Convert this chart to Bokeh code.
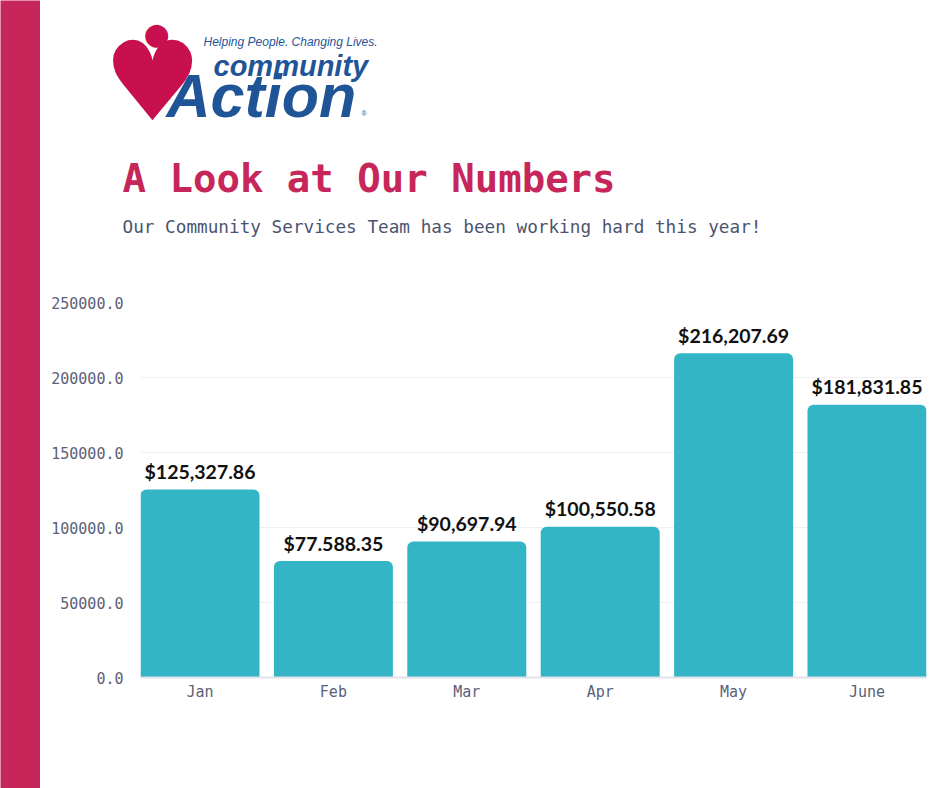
from bokeh.plotting import figure
from bokeh.layouts import row, column
from bokeh.models import FactorRange, Range1d, FixedTicker, PrintfTickFormatter
from bokeh.core.properties import value
from bokeh.embed import file_html
from bokeh.resources import INLINE

months = ["Jan", "Feb", "Mar", "Apr", "May", "June"]
amounts = [125327.86, 77588.35, 90697.94, 100550.58, 216207.69, 181831.85]
amount_labels = ["$125,327.86", "$77.588.35", "$90,697.94", "$100,550.58", "$216,207.69", "$181,831.85"]
y_ticks = [0, 50000, 100000, 150000, 200000, 250000]

title_text = "A Look at Our Numbers"
subtitle_text = "Our Community Services Team has been working hard this year!"
tagline_text = "Helping People. Changing Lives."

RED = "#c6265a"
TEAL = "#33b5c5"
BLUE = "#1f5597"
LOGO_RED = "#c8104e"
GREY_TXT = "#5a6179"
MONO = "DejaVu Sans Mono"


def blank(fig, color="white"):
    fig.axis.visible = False
    fig.grid.visible = False
    fig.outline_line_color = None
    fig.background_fill_color = color
    fig.border_fill_color = color
    return fig


def no_align(fig):
    try:
        fig.frame_align = False
    except Exception:
        pass
    return fig


# ---- red sidebar
side = blank(figure(width=40, height=788, min_border=0, output_backend="svg",
                    toolbar_location=None, x_range=Range1d(0, 1), y_range=Range1d(0, 1)),
             RED)
no_align(side)

# ---- header (logo, title, subtitle); data units = page pixels
head = blank(figure(width=900, height=294, min_border=0, output_backend="svg",
                    toolbar_location=None, x_range=Range1d(40, 940), y_range=Range1d(294, 0)))
no_align(head)

head.text(x=[152], y=[81], text=["\u2665"], text_font=value("DejaVu Sans"),
          text_font_size="110px", text_color=LOGO_RED, text_align="center",
          text_baseline="middle")
head.text(x=[156], y=[33], text=["\u25cf"], text_font=value("DejaVu Sans"),
          text_font_size="30px", text_color=LOGO_RED, text_align="center",
          text_baseline="middle")
head.text(x=[203], y=[41], text=[tagline_text], text_font=value("Liberation Sans"),
          text_font_style="italic", text_font_size="12px", text_color=BLUE,
          text_baseline="alphabetic")
head.text(x=[213], y=[65], text=["community"], text_font=value("Liberation Sans"),
          text_font_style="bold italic", text_font_size="29px", text_color=BLUE,
          text_baseline="alphabetic")
head.text(x=[166], y=[95], text=["Action"], text_font=value("Liberation Sans"),
          text_font_style="bold italic", text_font_size="61px", text_color=BLUE,
          text_baseline="alphabetic")
head.text(x=[361], y=[113], text=["\u00ae"], text_font=value("Liberation Sans"),
          text_font_size="7px", text_color=BLUE, text_baseline="alphabetic")

head.text(x=[122], y=[178], text=[title_text], text_font=value(MONO),
          text_font_style="bold", text_font_size="39px", text_color=RED,
          text_baseline="alphabetic")
head.text(x=[122], y=[226], text=[subtitle_text], text_font=value(MONO),
          text_font_size="17.7px", text_color="#4a5470", text_baseline="alphabetic")

# ---- chart
p = figure(
    x_range=FactorRange(*months, range_padding=-0.054, range_padding_units="absolute"),
    y_range=Range1d(0, 250000),
    width=900, height=494,
    min_border_left=100, min_border_right=14, min_border_top=8, min_border_bottom=111,
    output_backend="svg", toolbar_location=None,
)
no_align(p)
p.outline_line_color = None
p.background_fill_color = "white"
p.border_fill_color = "white"

p.vbar(x=months, top=amounts, width=0.892, color=TEAL, line_color=None,
       border_radius=(6, 6, 0, 0))

p.text(x=months, y=amounts, text=amount_labels, text_align="center",
       text_baseline="alphabetic", y_offset=-18,
       text_font=value("Lato"), text_font_style="bold", text_font_size="19.5px",
       text_color="#111111")

p.yaxis.ticker = FixedTicker(ticks=y_ticks)
p.yaxis.formatter = PrintfTickFormatter(format="%.1f")
p.yaxis.axis_line_color = None
p.yaxis.major_tick_line_color = None
p.yaxis.major_tick_out = 0
p.yaxis.minor_tick_line_color = None
p.yaxis.major_label_standoff = 17
p.yaxis.major_label_text_font = MONO
p.yaxis.major_label_text_font_size = "15px"
p.yaxis.major_label_text_color = GREY_TXT

p.xaxis.axis_line_color = "#e2e2ea"
p.xaxis.axis_line_width = 2
p.xaxis.major_tick_line_color = None
p.xaxis.major_tick_out = 0
p.xaxis.minor_tick_line_color = None
p.xaxis.major_label_standoff = 5
p.xaxis.major_label_text_font = MONO
p.xaxis.major_label_text_font_size = "15px"
p.xaxis.major_label_text_color = GREY_TXT

p.xgrid.grid_line_color = None
p.ygrid.grid_line_color = "#f0f0f2"
p.ygrid.grid_line_width = 1

layout = row(side, column(head, p, spacing=0), spacing=0)

open("out.html", "w").write(file_html(layout, INLINE))
